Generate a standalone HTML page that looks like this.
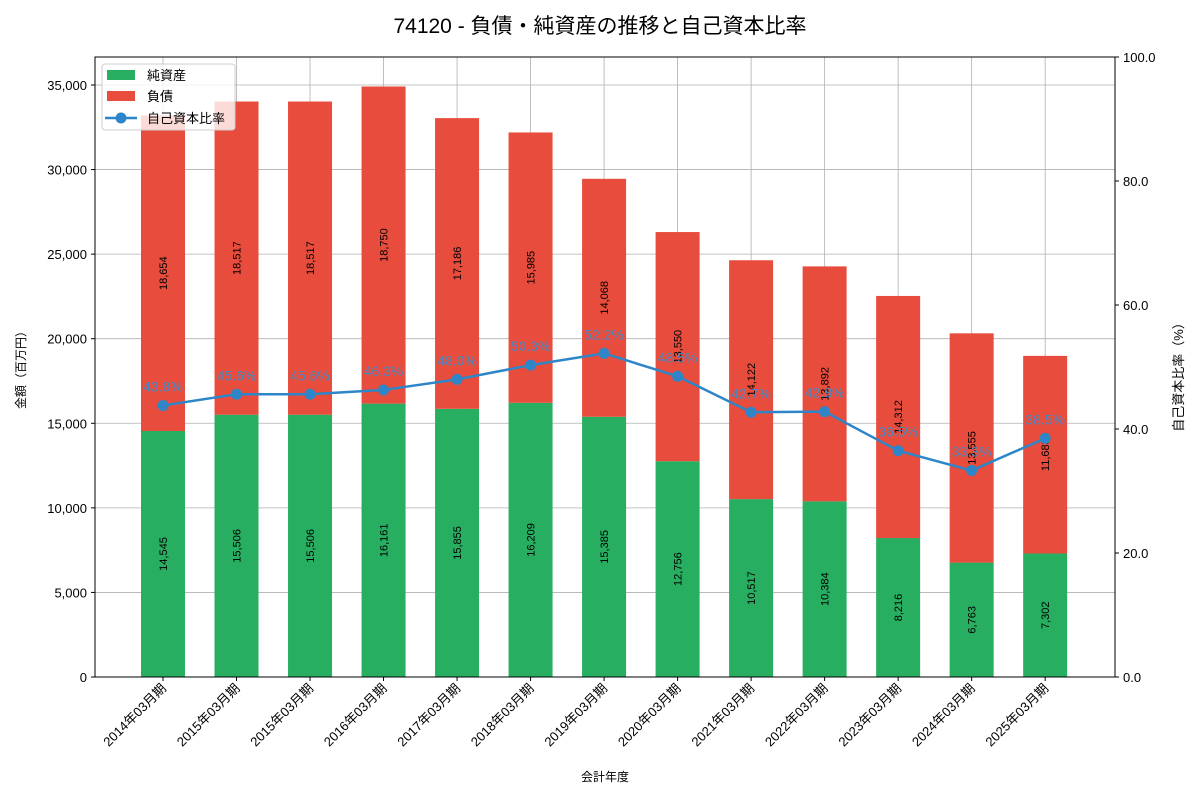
<!DOCTYPE html>
<html><head><meta charset="utf-8">
<style>
body{margin:0;background:#fff;}
svg text{font-family:"Liberation Sans","Noto Sans CJK JP",sans-serif;}
</style></head>
<body>
<svg id="chart" width="1200" height="800" xmlns="http://www.w3.org/2000/svg">
<text x="600" y="33" text-anchor="middle" font-size="21" fill="#000">74120 - 負債・純資産の推移と自己資本比率</text>
<g id="grid"></g>
<g id="bars"></g>
<g id="line"></g>
<rect x="95" y="57" width="1020" height="620" fill="none" stroke="#000" stroke-width="1"/>
<g id="axes"></g>
<text transform="translate(25,367) rotate(-90)" text-anchor="middle" font-size="12">金額（百万円）</text>
<text transform="translate(1183,374) rotate(-90)" text-anchor="middle" font-size="13">自己資本比率（%）</text>
<text x="605" y="781" text-anchor="middle" font-size="12">会計年度</text>
<g>
<rect x="102" y="64" width="133" height="66" rx="3" fill="#fff" fill-opacity="0.8" stroke="#ccc"/>
<rect x="107" y="70" width="28" height="10" fill="#27ae60"/>
<text x="147" y="80" font-size="13">純資産</text>
<rect x="107" y="91" width="28" height="10" fill="#e74c3c"/>
<text x="147" y="101" font-size="13">負債</text>
<line x1="105" y1="118" x2="137" y2="118" stroke="#2e86c8" stroke-width="2.5"/>
<circle cx="121" cy="118" r="5.5" fill="#2e86c8"/>
<text x="147" y="123" font-size="13">自己資本比率</text>
</g>
</svg>
<script>
const categories=["2014年03月期","2015年03月期","2015年03月期","2016年03月期","2017年03月期","2018年03月期","2019年03月期","2020年03月期","2021年03月期","2022年03月期","2023年03月期","2024年03月期","2025年03月期"];
const netAssets=[14545,15506,15506,16161,15855,16209,15385,12756,10517,10384,8216,6763,7302];
const liabilities=[18654,18517,18517,18750,17186,15985,14068,13550,14122,13892,14312,13555,11683];
const ratio=[43.8,45.6,45.6,46.3,48.0,50.3,52.2,48.5,42.7,42.8,36.5,33.3,38.5];
const leftTicks=[0,5000,10000,15000,20000,25000,30000,35000];
const rightTicks=[0,20,40,60,80,100];

const NS="http://www.w3.org/2000/svg";
const X0=95,X1=1115,Y0=677,Y1=57;
const yMax=36655;
const xmin=-0.925,xmax=12.95;
const xs=i=>X0+(i-xmin)/(xmax-xmin)*(X1-X0);
const yl=v=>Y0-v/yMax*(Y0-Y1);
const yr=v=>Y0-v/100*(Y0-Y1);
function mk(tag,attrs,parent,txt){const e=document.createElementNS(NS,tag);for(const k in attrs)e.setAttribute(k,attrs[k]);if(txt!==undefined)e.textContent=txt;document.getElementById(parent).appendChild(e);return e;}
const fmt=v=>v.toLocaleString('en-US');

leftTicks.forEach(t=>{
  const g=mk('line',{x1:X0,x2:X1,y1:yl(t),y2:yl(t),stroke:'#b0b0b0','stroke-width':0.8},'grid');
  
  
  const tk=mk('line',{x1:X0-4,x2:X0,y1:yl(t),y2:yl(t),stroke:'#000'},'axes');
  
  
  const l=mk('text',{x:X0-8,y:yl(t)+5,'text-anchor':'end','font-size':13},'axes',fmt(t));
  
  
});
rightTicks.forEach(t=>{
  const tk=mk('line',{x1:X1,x2:X1+4,y1:yr(t),y2:yr(t),stroke:'#000'},'axes');
  
  
  const l=mk('text',{x:X1+8,y:yr(t)+5,'font-size':13},'axes',t.toFixed(1));
  
  
});
categories.forEach((c,i)=>{
  const x=xs(i);
  const g=mk('line',{x1:x,x2:x,y1:Y0,y2:Y1,stroke:'#b0b0b0','stroke-width':0.8},'grid');
  
  
  const tk=mk('line',{x1:x,x2:x,y1:Y0,y2:Y0+4,stroke:'#000'},'axes');
  
  
  const l=mk('text',{transform:`translate(${x+4},${Y0+12}) rotate(-45)`,'text-anchor':'end','font-size':13},'axes',c);
  
  
  const w=44;
  const b1=mk('rect',{x:x-w/2,y:yl(netAssets[i]),width:w,height:Y0-yl(netAssets[i]),fill:'#27ae60'},'bars');
  
  
  const top=netAssets[i]+liabilities[i];
  const b2=mk('rect',{x:x-w/2,y:yl(top),width:w,height:yl(netAssets[i])-yl(top),fill:'#e74c3c'},'bars');
  
  
  const m1=yl(netAssets[i]/2);
  const t1=mk('text',{transform:`translate(${x+4},${m1}) rotate(-90)`,'text-anchor':'middle','font-size':11},'bars',fmt(netAssets[i]));
  
  
  const m2=yl(netAssets[i]+liabilities[i]/2);
  const t2=mk('text',{transform:`translate(${x+4},${m2}) rotate(-90)`,'text-anchor':'middle','font-size':11},'bars',fmt(liabilities[i]));
  
  
});
const pts=ratio.map((r,i)=>xs(i)+','+yr(r)).join(' ');
const pl=mk('polyline',{points:pts,fill:'none',stroke:'#2e86c8','stroke-width':2.5},'line');


ratio.forEach((r,i)=>{
  const c=mk('circle',{cx:xs(i),cy:yr(r),r:5.5,fill:'#2e86c8'},'line');
  
  
  const t=mk('text',{x:xs(i),y:yr(r)-14,'text-anchor':'middle','font-size':14,fill:'#3a8fd0','fill-opacity':0.9},'line',r.toFixed(1)+'%');
  
  
});
</script>
</body></html>
